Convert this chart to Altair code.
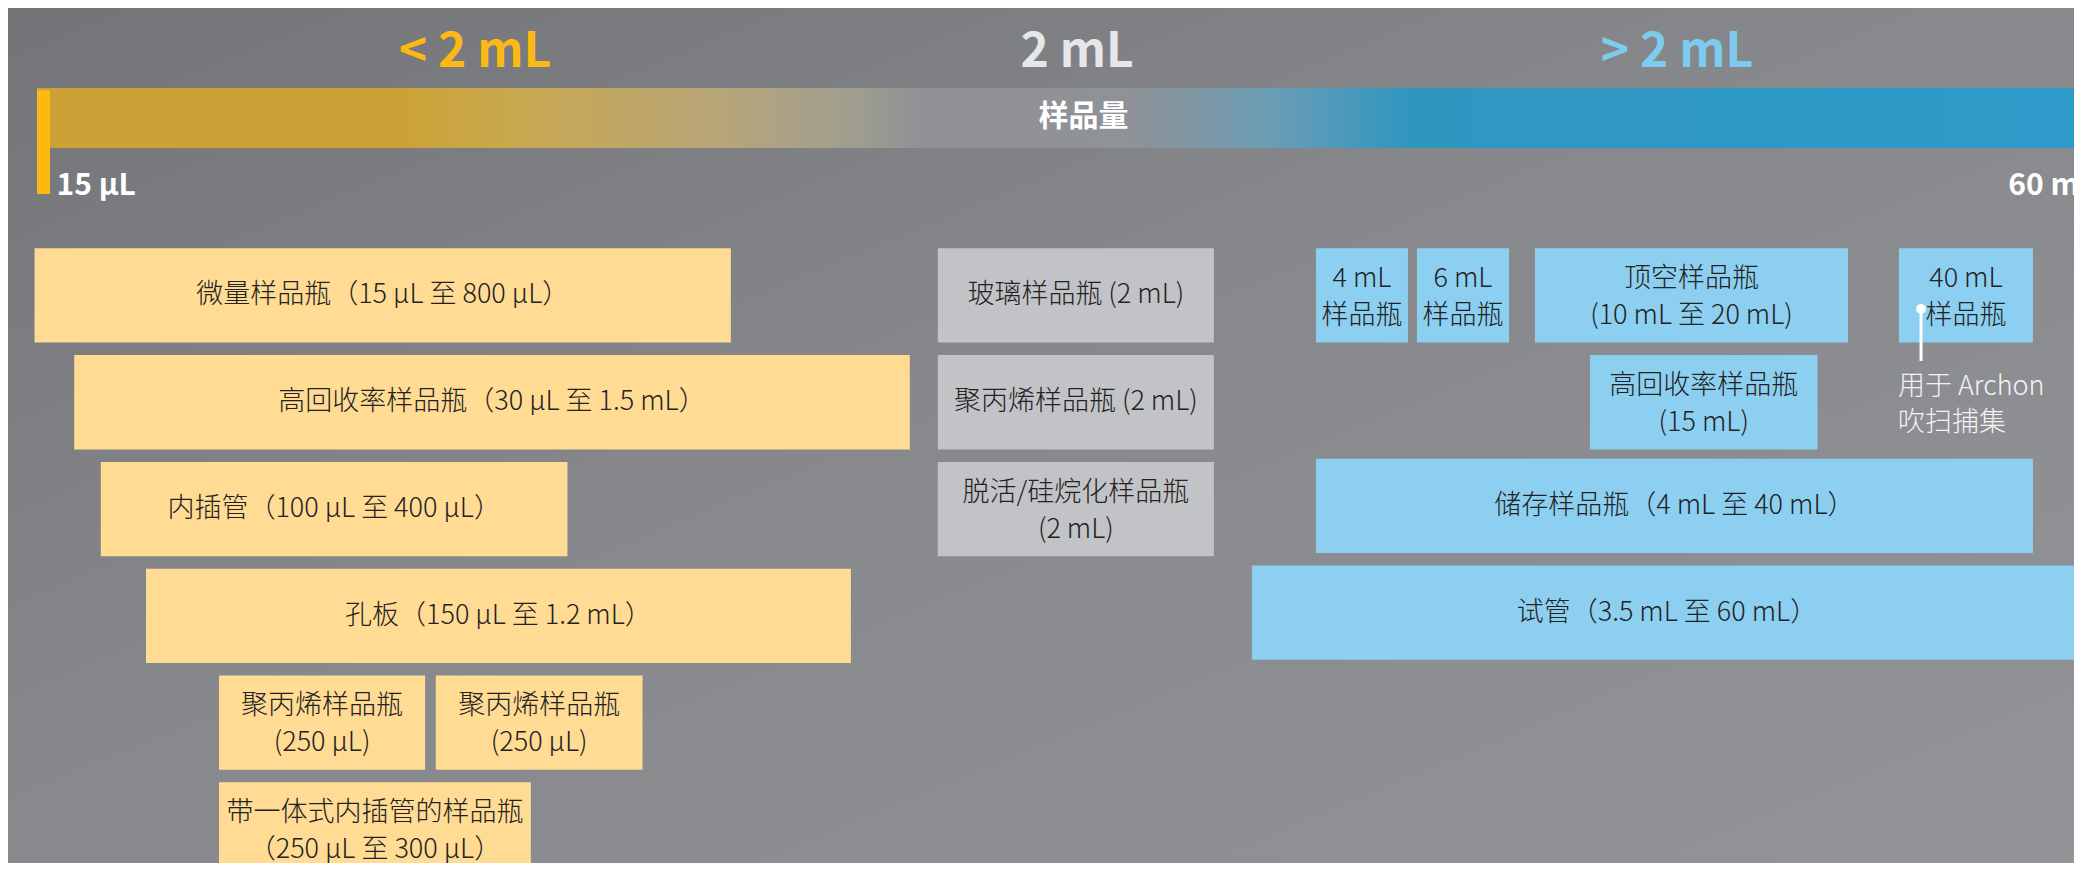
import altair as alt
import pandas as pd

# ---------------- data ----------------
# x positions: % along the "样品量" band (0 = 15 µL marker, 100 = right edge)
# y positions: row index of the box grid
box_labels = [
    "微量样品瓶（15 μL 至 800 μL）",
    "高回收率样品瓶（30 μL 至 1.5 mL）",
    "内插管（100 μL 至 400 μL）",
    "孔板（150 μL 至 1.2 mL）",
    "聚丙烯样品瓶\n(250 μL)",
    "聚丙烯样品瓶\n(250 μL)",
    "带一体式内插管的样品瓶\n（250 μL 至 300 μL）",
    "玻璃样品瓶 (2 mL)",
    "聚丙烯样品瓶 (2 mL)",
    "脱活/硅烷化样品瓶\n(2 mL)",
    "4 mL\n样品瓶",
    "6 mL\n样品瓶",
    "顶空样品瓶\n(10 mL 至 20 mL)",
    "40 mL\n样品瓶",
    "高回收率样品瓶\n(15 mL)",
    "储存样品瓶（4 mL 至 40 mL）",
    "试管（3.5 mL 至 60 mL）",
]
box_group = ["small"] * 7 + ["two"] * 3 + ["large"] * 7
box_start = [-0.12, 1.82, 3.12, 5.33, 8.90, 19.50, 8.90,
             44.05, 44.05, 44.05,
             62.54, 67.48, 73.25, 91.05, 75.94, 62.54, 59.41]
box_end = [33.93, 42.68, 25.94, 39.80, 18.98, 29.61, 24.15,
           57.55, 57.55, 57.55,
           67.04, 71.98, 88.56, 97.60, 87.07, 97.60, 101.0]
box_row = [0, 1, 2, 3, 4, 4, 5,
           0, 1, 2,
           0, 0, 0, 0, 1, 1.97, 2.97]

header_labels = ["< 2 mL", "2 mL", "> 2 mL"]
header_pos = [21.42, 50.86, 80.20]

band_title = ["样品量"]
band_ends = ["15 μL", "60 mL"]
band_end_pos = [0.95, 96.40]

note_lines = ["用于 Archon", "吹扫捕集"]
note_x = 91.0
note_rows = [1.296, 1.636]
note_dot = (92.13, 0.568)
note_line_end = 1.055

# ---------------- style ----------------
BOX_H = 0.883
LINE_H = 37
ROW_PX = 106.8
FONT = "Noto Sans CJK SC, sans-serif"
group_domain = ["small", "two", "large"]
box_colors = ["#FFDB94", "#C2C3C7", "#8DCFF1"]
header_colors = ["#FDB913", "#E6E7E8", "#7DCBEF"]

X_DOM = [-1.418, 99.61]
Y_DOM = [-2.25, 5.756]
xs = alt.Scale(domain=X_DOM, nice=False, zero=False)
ys = alt.Scale(domain=Y_DOM, reverse=True, nice=False, zero=False)

boxes = pd.DataFrame({
    "label": box_labels, "group": box_group,
    "start": box_start, "end": box_end, "row": box_row,
})
boxes["mid"] = (boxes["start"] + boxes["end"]) / 2
boxes.loc[boxes["end"] > 100, "mid"] = (boxes["start"] + 100) / 2
boxes["row2"] = boxes["row"] + BOX_H
nlines = boxes["label"].str.count("\n") + 1
boxes["rowmid"] = boxes["row"] + BOX_H / 2 - (nlines - 1) * 0.44 * LINE_H / ROW_PX

# background
bg_df = pd.DataFrame({"s": [X_DOM[0]], "e": [X_DOM[1]], "r1": [Y_DOM[0]], "r2": [Y_DOM[1]]})
bg_grad = alt.LinearGradient(
    gradient="linear", x1=0, y1=0, x2=1, y2=1,
    stops=[
        alt.GradientStop(color="#737478", offset=0.0),
        alt.GradientStop(color="#87888C", offset=0.45),
        alt.GradientStop(color="#939498", offset=1.0),
    ],
)
bg = alt.Chart(bg_df).mark_rect(color=bg_grad).encode(
    x=alt.X("s:Q", scale=xs, axis=None), x2="e:Q",
    y=alt.Y("r1:Q", scale=ys, axis=None), y2="r2:Q",
)

rects = alt.Chart(boxes).mark_rect().encode(
    x=alt.X("start:Q", scale=xs, axis=None),
    x2="end:Q",
    y=alt.Y("row:Q", scale=ys, axis=None),
    y2="row2:Q",
    color=alt.Color("group:N", scale=alt.Scale(domain=group_domain, range=box_colors), legend=None),
)
rect_text = alt.Chart(boxes).mark_text(
    lineBreak="\n", lineHeight=LINE_H, fontSize=27, font=FONT, fontWeight=300,
    color="#222222", align="center", baseline="middle",
).encode(
    x=alt.X("mid:Q", scale=xs, axis=None),
    y=alt.Y("rowmid:Q", scale=ys, axis=None),
    text="label:N",
)

# header category labels
hdr = pd.DataFrame({"label": header_labels, "pos": header_pos, "r": [-1.6976] * 3})
header = alt.Chart(hdr).mark_text(
    fontSize=48, fontWeight="bold", font=FONT, align="center", baseline="alphabetic"
).encode(
    x=alt.X("pos:Q", scale=xs, axis=None),
    y=alt.Y("r:Q", scale=ys, axis=None),
    text="label:N",
    color=alt.Color("label:N", scale=alt.Scale(domain=header_labels, range=header_colors), legend=None),
)

# gradient band
band_df = pd.DataFrame({"s": [0.0], "e": [101.5], "r1": [-1.500], "r2": [-0.938],
                        "title": band_title, "tx": [51.18], "ty": [-1.23]})
band_grad = alt.LinearGradient(
    gradient="linear", x1=0, y1=0, x2=1, y2=0,
    stops=[
        alt.GradientStop(color="#CBA235", offset=0.0),
        alt.GradientStop(color="#CBA235", offset=0.175),
        alt.GradientStop(color="#C9A84C", offset=0.223),
        alt.GradientStop(color="#B9A677", offset=0.324),
        alt.GradientStop(color="#A09E8F", offset=0.392),
        alt.GradientStop(color="#909195", offset=0.426),
        alt.GradientStop(color="#8F9296", offset=0.527),
        alt.GradientStop(color="#6A9DB5", offset=0.595),
        alt.GradientStop(color="#2F96C0", offset=0.662),
        alt.GradientStop(color="#2E9BCA", offset=1.0),
    ],
)
band = alt.Chart(band_df).mark_rect(color=band_grad).encode(
    x=alt.X("s:Q", scale=xs, axis=None), x2="e:Q",
    y=alt.Y("r1:Q", scale=ys, axis=None), y2="r2:Q",
)
band_text = alt.Chart(band_df).mark_text(
    fontSize=30, fontWeight="bold", font=FONT, color="white", align="center", baseline="middle"
).encode(
    x=alt.X("tx:Q", scale=xs, axis=None),
    y=alt.Y("ty:Q", scale=ys, axis=None),
    text="title:N",
)
marker_df = pd.DataFrame({"s": [0.0], "e": [0.636], "r1": [-1.481], "r2": [-0.508]})
marker = alt.Chart(marker_df).mark_rect(color="#FDB913").encode(
    x=alt.X("s:Q", scale=xs, axis=None), x2="e:Q",
    y=alt.Y("r1:Q", scale=ys, axis=None), y2="r2:Q",
)
ends_df = pd.DataFrame({"label": band_ends, "pos": band_end_pos, "r": [-0.498, -0.498]})
ends = alt.Chart(ends_df).mark_text(
    fontSize=30, fontWeight="bold", font=FONT, color="white", align="left", baseline="alphabetic"
).encode(
    x=alt.X("pos:Q", scale=xs, axis=None),
    y=alt.Y("r:Q", scale=ys, axis=None),
    text="label:N",
)

# annotation
note_df = pd.DataFrame({"label": note_lines, "x": [note_x] * 2, "r": note_rows})
note_text = alt.Chart(note_df).mark_text(
    fontSize=27, font=FONT, fontWeight=300, color="#F4F4F4", align="left", baseline="middle"
).encode(
    x=alt.X("x:Q", scale=xs, axis=None),
    y=alt.Y("r:Q", scale=ys, axis=None),
    text="label:N",
)
dot_df = pd.DataFrame({"x": [note_dot[0]], "r": [note_dot[1]], "r2": [note_line_end]})
note_rule = alt.Chart(dot_df).mark_rule(color="white", strokeWidth=3).encode(
    x=alt.X("x:Q", scale=xs, axis=None),
    y=alt.Y("r:Q", scale=ys, axis=None), y2="r2:Q",
)
note_dot_mark = alt.Chart(dot_df).mark_circle(color="white", opacity=1, size=100).encode(
    x=alt.X("x:Q", scale=xs, axis=None),
    y=alt.Y("r:Q", scale=ys, axis=None),
)

chart = alt.layer(
    bg, band, marker, ends, band_text, header,
    rects, rect_text,
    note_rule, note_dot_mark, note_text,
).resolve_scale(color="independent").properties(
    width=2066, height=855, padding=0,
    autosize=alt.AutoSizeParams(type="none"),
    background="#86878B",
).configure_view(stroke=None)

chart.save("out.html", embed_options={"renderer": "svg", "actions": False})
